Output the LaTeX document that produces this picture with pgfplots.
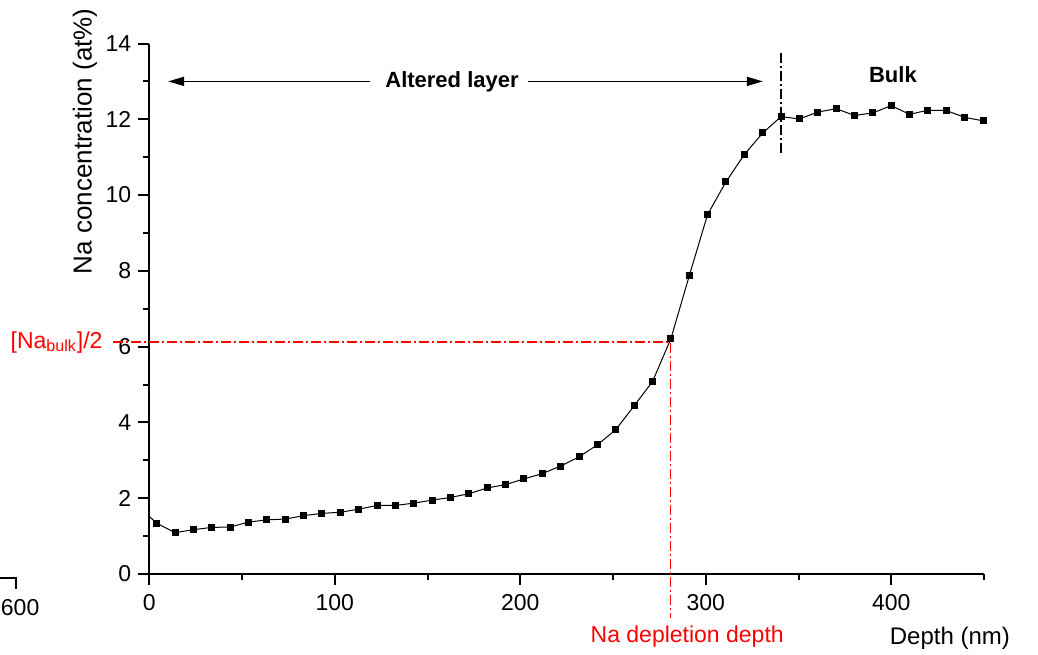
\documentclass[border=0pt]{standalone}
\usepackage{fontspec}
\setmainfont{Liberation Sans}
\usepackage{pgfplots}
\pgfplotsset{compat=1.18}
\usetikzlibrary{arrows.meta}

\begin{document}
\begin{tikzpicture}
\begin{axis}[
  scale only axis,
  width=417.35pt, height=265.25pt,
  xmin=0, xmax=450, ymin=0, ymax=14,
  axis x line*=bottom, axis y line*=left,
  axis line style={line width=1pt},
  tick align=outside,
  xtick={0,100,...,400}, minor xtick={50,150,...,450},
  ytick={0,2,...,14}, minor ytick={1,3,...,13},
  major tick length=5.5pt, minor tick length=3pt,
  every tick/.style={black, line width=1pt},
  tick label style={font=\fontsize{11.5}{13}\selectfont},
  xticklabel style={yshift=-1pt},
  /pgf/number format/assume math mode=true,
  clip=false,
]
% Na profile, first point sits on the axis without a mark
\addplot[black, line width=0.5pt, mark=square*, mark size=1.5pt,
  mark phase=2, mark repeat=1, mark options={solid}]
coordinates{
(0,1.52)(4.0,1.34)(13.9,1.09)(23.8,1.17)(33.7,1.23)(43.6,1.24)
(53.5,1.37)(63.4,1.43)(73.3,1.45)(83.2,1.54)(93.1,1.60)
(103.0,1.63)(112.9,1.71)(122.8,1.81)(132.7,1.81)(142.6,1.87)
(152.5,1.95)(162.4,2.02)(172.3,2.12)(182.2,2.27)(192.1,2.36)
(202.0,2.51)(211.9,2.65)(221.8,2.85)(231.7,3.09)(241.6,3.41)
(251.5,3.81)(261.4,4.44)(271.3,5.08)(281.2,6.21)(291.1,7.87)
(301.0,9.49)(310.9,10.35)(320.8,11.07)(330.7,11.64)(340.6,12.07)
(350.5,12.01)(360.4,12.19)(370.3,12.28)(380.2,12.10)(390.1,12.17)
(400.0,12.36)(409.9,12.13)(419.8,12.24)(429.7,12.23)(439.6,12.05)
(449.5,11.96)};

% guide lines
\draw[red, line width=0.9pt, dash pattern=on 5pt off 1.5pt on 1pt off 1.5pt]
  (axis cs:-19.6,6.12) -- (axis cs:281,6.12) -- (axis cs:281,-1.16);
\draw[black, line width=0.7pt, dash pattern=on 5pt off 1.5pt on 1pt off 1.5pt]
  (axis cs:340.5,13.75) -- (axis cs:340.5,11.12);

\draw[-{Triangle[length=8pt,width=4.5pt]}, line width=0.7pt]
  (axis cs:119,13) -- (axis cs:10.1,13);
\draw[-{Triangle[length=8pt,width=4.5pt]}, line width=0.7pt]
  (axis cs:204.2,13) -- (axis cs:330.8,13);

\node[font=\bfseries\fontsize{11}{13}\selectfont] at (axis cs:163.2,13) {Altered layer};
\node[font=\bfseries\fontsize{11}{13}\selectfont] at (axis cs:400.9,13.19) {Bulk};

\node[red, anchor=east, inner sep=0pt, font=\fontsize{11.5}{13}\selectfont]
  at (axis cs:-25,6.12) {[Na\textsubscript{bulk}]/2};
\node[red, font=\fontsize{11.5}{13}\selectfont] at (axis cs:290,-1.66) {Na depletion depth};
\node[font=\fontsize{12}{14}\selectfont] at (axis cs:431.6,-1.69) {Depth (nm)};
\node[rotate=90, font=\fontsize{13}{15}\selectfont] at (axis cs:-34.7,11.42) {Na concentration (at\%)};

% leftover of a neighbouring panel
\draw[line width=1pt] (axis cs:-82,-0.11) -- (axis cs:-72,-0.11) -- (axis cs:-72,-0.40);
\node[anchor=west, inner sep=0pt, font=\fontsize{11.5}{13}\selectfont] at (axis cs:-80.2,-0.88) {600};
\end{axis}
\pgfresetboundingbox
\path[use as bounding box] ([shift={(-74.65pt,-40pt)}]current axis.south west)
  rectangle ([shift={(444.35pt,287pt)}]current axis.south west);
\end{tikzpicture}
\end{document}
